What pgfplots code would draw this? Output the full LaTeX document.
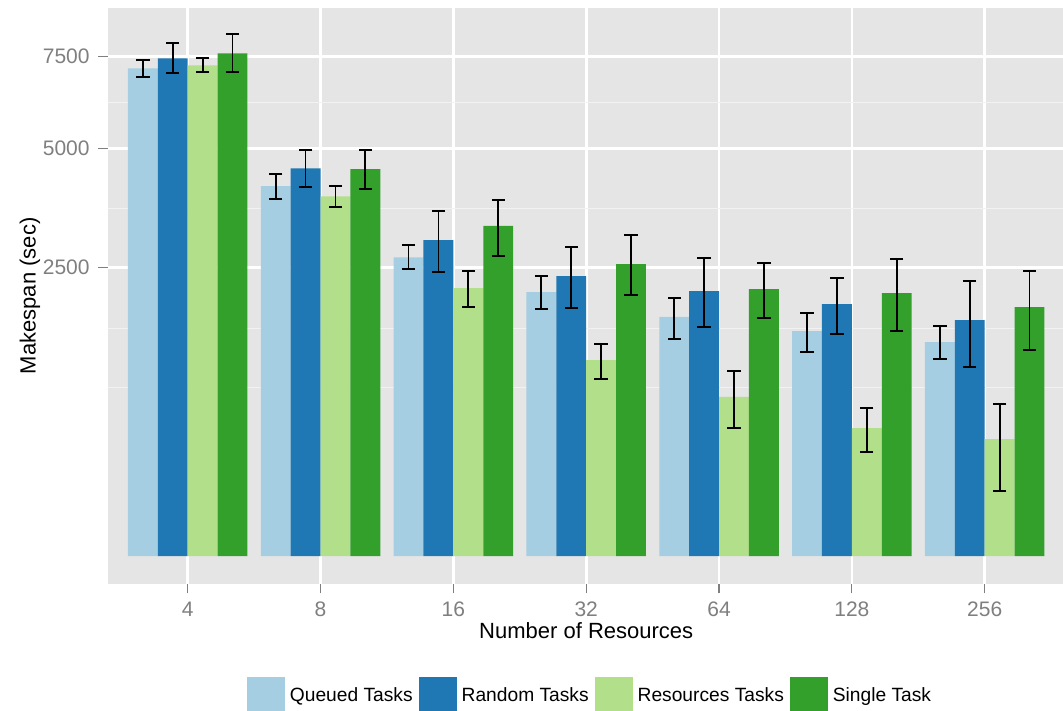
\documentclass[border=0pt]{standalone}
\usepackage{fontspec}
\setmainfont{Liberation Sans}
\usepackage{pgfplots}
\pgfplotsset{compat=1.18}

\definecolor{cQueued}{HTML}{A6CEE3}
\definecolor{cRandom}{HTML}{1F78B4}
\definecolor{cRes}{HTML}{B2DF8A}
\definecolor{cSingle}{HTML}{33A02C}
\definecolor{panelbg}{HTML}{E5E5E5}
\definecolor{minorgrid}{HTML}{F2F2F2}
\definecolor{ticktext}{HTML}{7F7F7F}

\pgfplotsset{
  keybox/.style={legend image code/.code={\fill[#1] (0bp,-9.5bp) rectangle (19bp,9.5bp);}},
  errbar/.style={black, line width=0.9bp, mark=-, mark size=3.33bp,
    mark options={solid, line width=0.9bp}, unbounded coords=jump, forget plot},
}

\begin{document}
\begin{tikzpicture}
\useasboundingbox (-54bp,-63.65bp) rectangle (477.5bp,291.85bp);
\begin{axis}[
  scale only axis, width=478.2bp, height=287.85bp,
  xmin=-0.6, xmax=6.6, ymin=-23.04, ymax=9036,
  % square-root scale on y (signed, so the lower margin can go below zero)
  y coord trafo/.code={\pgfmathparse{sqrt(abs(#1))*(1-2*(#1<0))}},
  axis background/.style={fill=panelbg},
  axis line style={draw=none},
  xtick={0,1,2,3,4,5,6}, xticklabels={4,8,16,32,64,128,256},
  ytick={2500,5000,7500}, yticklabels={2500,5000,7500},
  minor ytick={852,1560,3638,6194},
  xmajorgrids, ymajorgrids, yminorgrids,
  major grid style={white, line width=1.3bp},
  minor grid style={minorgrid, line width=0.6bp},
  tick align=outside, tick pos=left,
  major tick length=4.85bp, minor tick length=0pt,
  tick style={ticktext, line width=0.6bp},
  xticklabel style={font=\fontsize{10.5bp}{12bp}\selectfont, text=ticktext, anchor=north, inner sep=0pt, yshift=-4.15bp},
  yticklabel style={font=\fontsize{10.5bp}{12bp}\selectfont, text=ticktext, anchor=east, inner sep=0pt, xshift=-4.15bp},
  xlabel={Number of Resources}, ylabel={Makespan (sec)},
  label style={font=\fontsize{11bp}{13bp}\selectfont, inner sep=0pt},
  xlabel style={at={(axis description cs:0.5,-0.0948)}, anchor=base},
  ylabel style={at={(axis description cs:-0.0816,0.5)}, anchor=center},
  legend columns=4,
  legend cell align=left,
  legend style={draw=none, fill=none, at={(axis description cs:0.1453,-0.162)},
    anchor=north west, inner sep=0pt, outer sep=0pt,
    font=\fontsize{9.6bp}{11bp}\selectfont, nodes={inner sep=0pt},
    /tikz/every odd column/.append style={column sep=2.5bp},
    /tikz/every even column/.append style={column sep=3bp}},
]
% bars: mean makespan per number of resources
\addplot[ybar, bar width=0.225, bar shift=-0.3375, fill=cQueued, draw=none, keybox=cQueued]
  coordinates {(0,7157) (1,4119) (2,2685) (3,2097) (4,1719) (5,1523) (6,1378)};
\addplot[ybar, bar width=0.225, bar shift=-0.1125, fill=cRandom, draw=none, keybox=cRandom]
  coordinates {(0,7453) (1,4523) (2,3004) (3,2359) (4,2113) (5,1911) (6,1676)};
\addplot[ybar, bar width=0.225, bar shift=0.1125, fill=cRes, draw=none, keybox=cRes]
  coordinates {(0,7245) (1,3893) (2,2161) (3,1156) (4,761) (5,493) (6,412)};
\addplot[ybar, bar width=0.225, bar shift=0.3375, fill=cSingle, draw=none, keybox=cSingle]
  coordinates {(0,7604) (1,4506) (2,3277) (3,2565) (4,2145) (5,2081) (6,1865)};
\legend{Queued Tasks, Random Tasks, Resources Tasks, Single Task}

% error bars (lower and upper end for each bar)
\addplot[errbar] coordinates {
  (-0.3375,6904) (-0.3375,7393) (nan,0)
  (0.6625,3841) (0.6625,4390) (nan,0)
  (1.6625,2478) (1.6625,2904) (nan,0)
  (2.6625,1840) (2.6625,2359) (nan,0)
  (3.6625,1421) (3.6625,2003) (nan,0)
  (4.6625,1256) (4.6625,1777) (nan,0)
  (5.6625,1164) (5.6625,1587)};
\addplot[errbar] coordinates {
  (-0.1125,7019) (-0.1125,7919) (nan,0)
  (0.8875,4097) (0.8875,4967) (nan,0)
  (1.8875,2432) (1.8875,3588) (nan,0)
  (2.8875,1851) (2.8875,2873) (nan,0)
  (3.8875,1574) (3.8875,2667) (nan,0)
  (4.8875,1483) (4.8875,2325) (nan,0)
  (5.8875,1071) (5.8875,2275)};
\addplot[errbar] coordinates {
  (0.1125,7040) (0.1125,7462) (nan,0)
  (1.1125,3665) (1.1125,4113) (nan,0)
  (2.1125,1865) (2.1125,2449) (nan,0)
  (3.1125,946) (3.1125,1356) (nan,0)
  (4.1125,493) (4.1125,1030) (nan,0)
  (5.1125,327) (5.1125,659) (nan,0)
  (6.1125,127) (6.1125,692)};
\addplot[errbar] coordinates {
  (0.3375,7048) (0.3375,8208) (nan,0)
  (1.3375,4053) (1.3375,4960) (nan,0)
  (2.3375,2708) (2.3375,3820) (nan,0)
  (3.3375,2045) (3.3375,3095) (nan,0)
  (4.3375,1709) (4.3375,2583) (nan,0)
  (5.3375,1523) (5.3375,2654) (nan,0)
  (6.3375,1273) (6.3375,2449)};
\end{axis}
\end{tikzpicture}
\end{document}
